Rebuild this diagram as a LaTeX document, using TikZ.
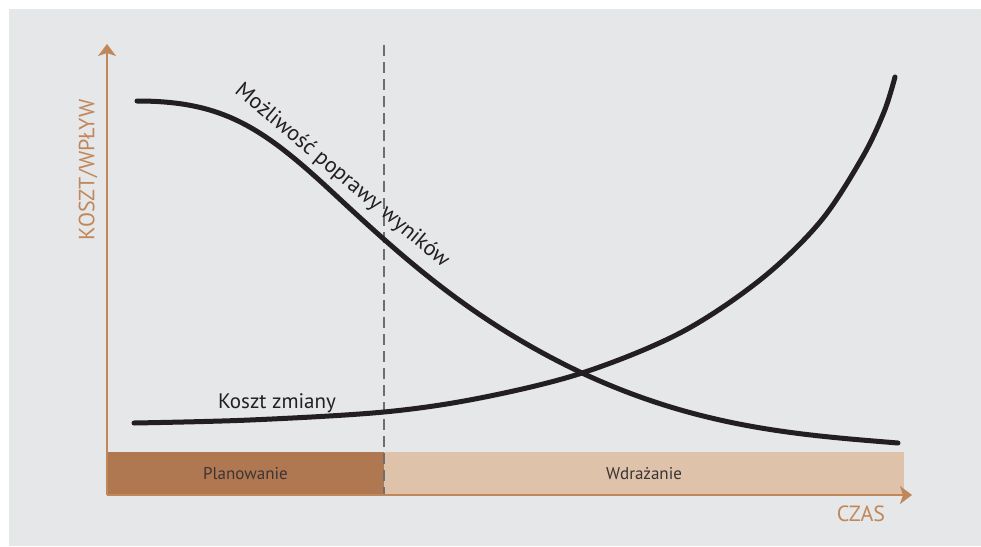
\documentclass[tikz,border=0pt]{standalone}
\usepackage{fontspec}
\setmainfont{PT Sans}
\usetikzlibrary{arrows.meta}
\definecolor{panel}{HTML}{E6E7E8}
\definecolor{axisbrown}{HTML}{C0875B}
\definecolor{plandark}{HTML}{B07850}
\definecolor{deploylight}{HTML}{DFC2AA}
\definecolor{curveink}{HTML}{231F20}
\definecolor{guide}{HTML}{6D6E71}
\definecolor{bartext}{HTML}{3A3435}
\tikzset{
  axisline/.style={draw=axisbrown, line width=2pt, -{Stealth[length=12pt,width=18pt,inset=3pt]}},
  curve/.style={draw=curveink, line width=5pt, line cap=round},
  phasebar/.style={inner sep=0pt, outer sep=0pt, anchor=south west},
  bartxt/.style={text=bartext, font=\fontsize{17}{20}\selectfont},
  curvelabel/.style={text=curveink, font=\fontsize{21}{25}\selectfont, inner sep=0pt},
  axislabel/.style={text=axisbrown, font=\fontsize{22}{26}\selectfont, inner sep=0pt},
  divider/.style={draw=guide, line width=1.1pt, dash pattern=on 11pt off 6pt}
}
\begin{document}
\begin{tikzpicture}[x=1pt,y=-1pt]
  \useasboundingbox (0,0) rectangle (981,546);
  \fill[white] (0,0) rectangle (981,546);
  \fill[panel] (9,9) rectangle (981,546);

  % phase bars along the time axis
  \node[phasebar, fill=plandark, minimum width=277pt, minimum height=43pt] (plan) at (107,495) {};
  \node[phasebar, fill=deploylight, minimum width=520pt, minimum height=43pt] (deploy) at (384,495) {};
  \node[bartxt] (plantxt) at (plan.center) {Planowanie};
  \node[bartxt] (deploytxt) at (deploy.center) {Wdrażanie};

  % boundary between the phases
  \coordinate (divtop) at (384,45);
  \coordinate (divbot) at (384,495);
  \draw[divider] (divtop) -- (divbot);

  % axes
  \coordinate (origin) at (107,495);
  \coordinate (ytip) at (107,44);
  \coordinate (xtip) at (912,495);
  \draw[axisline] (origin) -- (ytip);
  \draw[axisline] (origin) -- (xtip);
  \node[axislabel, rotate=90] (ylab) at (88,170) {KOSZT/WPŁYW};
  \node[axislabel] (xlab) at (861,514) {CZAS};

  % opportunity to improve results
  \draw[curve] (137,101) .. controls (220,101) and (260,125) .. (330,190)
               .. controls (400,255) and (470,320) .. (582,373)
               .. controls (700,428) and (800,435) .. (898,443);
  % cost of change
  \draw[curve] plot[smooth, tension=0.55] coordinates {
    (134,423) (250,420) (384,412) (480,398) (582,373) (680,333)
    (760,280) (820,222) (862,158) (884,112) (895,77)};

  \node[curvelabel, font=\fontsize{22}{26}\selectfont, rotate=-40] (opplab) at (342,176) {Możliwość poprawy wyników};
  \node[curvelabel] (costlab) at (277,403) {Koszt zmiany};
\end{tikzpicture}
\end{document}
